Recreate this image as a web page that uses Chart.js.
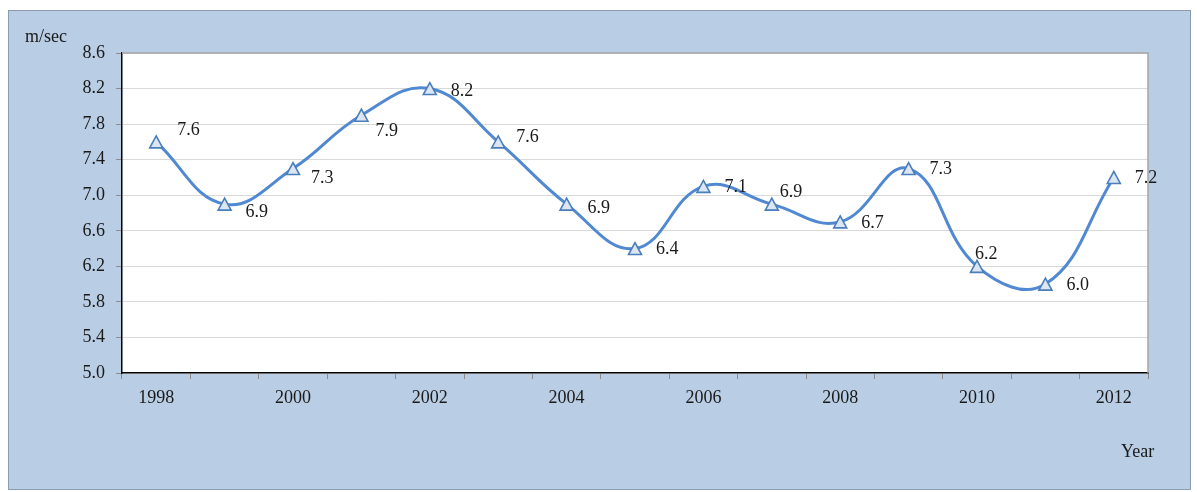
<!DOCTYPE html>
<html>
<head>
<meta charset="utf-8">
<script src="https://cdn.jsdelivr.net/npm/chart.js@4/dist/chart.umd.min.js"></script>
<style>
  html, body { margin: 0; padding: 0; background: #ffffff; }
  canvas { display: block; }
</style>
</head>
<body>
<canvas id="wind" width="1197" height="492"></canvas>
<script>
// Mean wind speed by year
const years = ['1998','1999','2000','2001','2002','2003','2004','2005','2006','2007','2008','2009','2010','2011','2012'];
const speeds = [7.6, 6.9, 7.3, 7.9, 8.2, 7.6, 6.9, 6.4, 7.1, 6.9, 6.7, 7.3, 6.2, 6.0, 7.2];
const yMin = 5.0, yMax = 8.6, yStep = 0.4;
const unitLabel = 'm/sec';
const axisLabel = 'Year';

const FONT = '"Liberation Serif", "Times New Roman", serif';
const TEXT = '#1a1a1a';

// Panel background, plot-area fill and frame
const framePlugin = {
  id: 'frame',
  beforeDraw(chart) {
    const { ctx, chartArea: a } = chart;
    ctx.save();
    ctx.fillStyle = '#ffffff';
    ctx.fillRect(0, 0, chart.width, chart.height);
    ctx.fillStyle = '#b9cde5';
    ctx.fillRect(8, 10, 1183, 480);
    ctx.strokeStyle = '#8b9bb2';
    ctx.lineWidth = 1;
    ctx.strokeRect(8.5, 10.5, 1182, 479);
    ctx.fillStyle = '#ffffff';
    ctx.fillRect(a.left, a.top, a.right - a.left, a.bottom - a.top);
    ctx.restore();
  },
  beforeDatasetsDraw(chart) {
    const { ctx, chartArea: a } = chart;
    ctx.save();
    ctx.strokeStyle = '#a6a6a6';
    ctx.lineWidth = 1.5;
    ctx.beginPath();
    ctx.moveTo(a.left, a.top);
    ctx.lineTo(a.right, a.top);
    ctx.lineTo(a.right, a.bottom);
    ctx.stroke();
    ctx.restore();
  },
  afterDraw(chart) {
    const { ctx } = chart;
    ctx.save();
    ctx.fillStyle = TEXT;
    ctx.font = '18px ' + FONT;
    ctx.textBaseline = 'middle';
    ctx.textAlign = 'left';
    ctx.fillText(unitLabel, 25, 37);
    ctx.fillText(axisLabel, 1121, 452);
    ctx.restore();
  }
};

// Triangle markers centred on their bounding box, then value labels to the right
const markersAndLabels = {
  id: 'valueLabels',
  afterDatasetsDraw(chart, args, opts) {
    const { ctx } = chart;
    const meta = chart.getDatasetMeta(0);
    const data = chart.data.datasets[0].data;
    ctx.save();
    const hw = opts.markerHalfWidth, hh = opts.markerHalfHeight;
    ctx.fillStyle = '#dce6f2';
    ctx.strokeStyle = '#4a7ebb';
    ctx.lineWidth = 1.6;
    ctx.lineJoin = 'miter';
    meta.data.forEach((pt) => {
      ctx.beginPath();
      ctx.moveTo(pt.x, pt.y - hh);
      ctx.lineTo(pt.x + hw, pt.y + hh);
      ctx.lineTo(pt.x - hw, pt.y + hh);
      ctx.closePath();
      ctx.fill();
      ctx.stroke();
    });

    ctx.fillStyle = TEXT;
    ctx.font = '18px ' + FONT;
    ctx.textAlign = 'left';
    ctx.textBaseline = 'middle';
    meta.data.forEach((pt, i) => {
      const n = opts.nudge[i] || [0, 0];
      ctx.fillText(data[i].toFixed(1), pt.x + opts.gap + n[0], pt.y + 1 + n[1]);
    });
    ctx.restore();
  }
};

new Chart(document.getElementById('wind'), {
  type: 'line',
  data: {
    labels: years,
    datasets: [{
      data: speeds,
      borderColor: '#5089d2',
      borderWidth: 3,
      tension: 0.42,
      fill: false,
      pointRadius: 0,
      pointHoverRadius: 0
    }]
  },
  options: {
    responsive: false,
    animation: false,
    events: [],
    layout: { padding: { top: 53, right: 49, left: 0, bottom: 0 } },
    plugins: {
      legend: { display: false },
      tooltip: { enabled: false },
      valueLabels: {
        gap: 21,
        markerHalfWidth: 6.5,
        markerHalfHeight: 6,
        nudge: {
          0: [0, -13], 1: [0, 7], 2: [-3, 9], 3: [-7, 15], 4: [0, 2], 5: [-3, -6],
          6: [0, 3], 9: [-13, -13], 12: [-23, -13]
        }
      }
    },
    scales: {
      x: {
        offset: true,
        afterFit(s) { s.height = 119; },
        grid: {
          offset: true,
          drawOnChartArea: false,
          drawTicks: true,
          tickLength: 6,
          color: '#8c8c8c'
        },
        border: { color: '#000000', width: 1.5 },
        ticks: {
          autoSkip: false,
          maxRotation: 0,
          padding: 8,
          color: TEXT,
          font: { family: FONT, size: 18 },
          callback(v, i) { return i % 2 === 0 ? this.getLabelForValue(v) : ''; }
        }
      },
      y: {
        min: yMin,
        max: yMax,
        afterFit(s) { s.width = 122; },
        grid: {
          color: '#d9d9d9',
          tickColor: '#8c8c8c',
          tickLength: 6,
          lineWidth: 1
        },
        border: { color: '#000000', width: 1.5 },
        ticks: {
          stepSize: yStep,
          padding: 11,
          color: TEXT,
          font: { family: FONT, size: 18 },
          callback(v) { return Number(v).toFixed(1); }
        }
      }
    }
  },
  plugins: [framePlugin, markersAndLabels]
});
</script>
</body>
</html>
